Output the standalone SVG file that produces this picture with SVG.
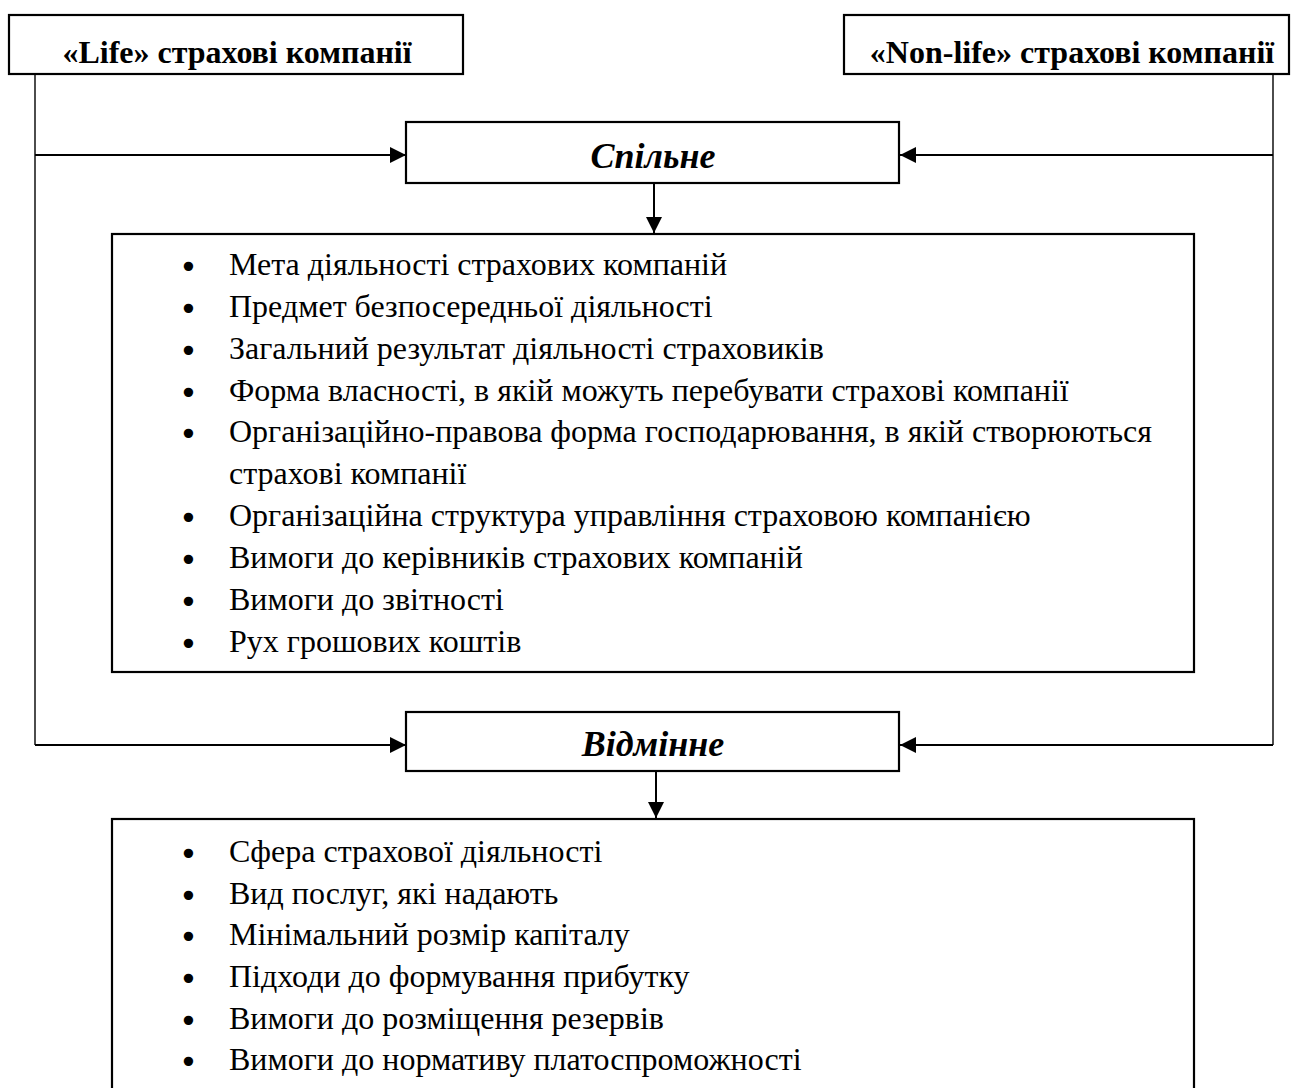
<svg xmlns="http://www.w3.org/2000/svg" width="1291" height="1088" viewBox="0 0 1291 1088">
  <style>
    .box { fill: #ffffff; stroke: #000000; stroke-width: 2.2; }
    .head { font-family: "Liberation Serif", "Times New Roman", serif; font-weight: bold; font-size: 32px; fill: #000; }
    .title { font-family: "Liberation Serif", "Times New Roman", serif; font-weight: bold; font-style: italic; font-size: 36px; fill: #000; }
    .item { font-family: "Liberation Serif", "Times New Roman", serif; font-size: 32px; fill: #000; }
    .bullet { font-family: "DejaVu Sans", sans-serif; font-size: 32px; fill: #000; }
    .wire { fill: none; stroke: #000000; stroke-width: 2; }
    .side { fill: none; stroke: #000000; stroke-width: 1.4; }
  </style>
  <defs>
    <marker id="arrow" viewBox="0 0 16 16" refX="16" refY="8" markerWidth="16" markerHeight="16" markerUnits="userSpaceOnUse" orient="auto">
      <path d="M0,0 L16,8 L0,16 Z" fill="#000"/>
    </marker>
  </defs>

  <rect width="1291" height="1088" fill="#ffffff"/>

  <!-- connectors -->
  <g id="connectors">
    <path class="side" d="M35,74 V745"/>
    <path class="side" d="M1273,74 V745"/>
    <path class="wire" d="M35,155 H406" marker-end="url(#arrow)"/>
    <path class="wire" d="M1273,155 H900" marker-end="url(#arrow)"/>
    <path class="wire" d="M35,745 H406" marker-end="url(#arrow)"/>
    <path class="wire" d="M1273,745 H900" marker-end="url(#arrow)"/>
    <path class="wire" d="M654,183 V233" marker-end="url(#arrow)"/>
    <path class="wire" d="M656,771 V818" marker-end="url(#arrow)"/>
  </g>

  <!-- life insurers -->
  <g id="life">
    <rect class="box" x="9" y="15" width="454" height="59"/>
    <text class="head" x="237" y="63" text-anchor="middle">«Life» страхові компанії</text>
  </g>

  <!-- non-life insurers -->
  <g id="nonlife">
    <rect class="box" x="844" y="15" width="445" height="59"/>
    <text class="head" x="1072" y="63" text-anchor="middle">«Non-life» страхові компанії</text>
  </g>

  <!-- common features -->
  <g id="common">
    <rect class="box" x="406" y="122" width="493" height="61"/>
    <text class="title" x="653" y="168" text-anchor="middle">Спільне</text>
  </g>

  <g id="common-list">
    <rect class="box" x="112" y="234" width="1082" height="438"/>
    <g class="bullet">
      <text x="179" y="278">•</text>
      <text x="179" y="320">•</text>
      <text x="179" y="362">•</text>
      <text x="179" y="404">•</text>
      <text x="179" y="445">•</text>
      <text x="179" y="529">•</text>
      <text x="179" y="571">•</text>
      <text x="179" y="613">•</text>
      <text x="179" y="655">•</text>
    </g>
    <g class="item">
      <text x="229" y="275">Мета діяльності страхових компаній</text>
      <text x="229" y="317">Предмет безпосередньої діяльності</text>
      <text x="229" y="359">Загальний результат діяльності страховиків</text>
      <text x="229" y="401">Форма власності, в якій можуть перебувати страхові компанії</text>
      <text x="229" y="442">Організаційно-правова форма господарювання, в якій створюються</text>
      <text x="229" y="484">страхові компанії</text>
      <text x="229" y="526">Організаційна структура управління страховою компанією</text>
      <text x="229" y="568">Вимоги до керівників страхових компаній</text>
      <text x="229" y="610">Вимоги до звітності</text>
      <text x="229" y="652">Рух грошових коштів</text>
    </g>
  </g>

  <!-- differing features -->
  <g id="different">
    <rect class="box" x="406" y="712" width="493" height="59"/>
    <text class="title" x="653" y="756" text-anchor="middle">Відмінне</text>
  </g>

  <g id="different-list">
    <rect class="box" x="112" y="819" width="1082" height="290"/>
    <g class="bullet">
      <text x="179" y="865">•</text>
      <text x="179" y="907">•</text>
      <text x="179" y="948">•</text>
      <text x="179" y="990">•</text>
      <text x="179" y="1032">•</text>
      <text x="179" y="1073">•</text>
    </g>
    <g class="item">
      <text x="229" y="862">Сфера страхової діяльності</text>
      <text x="229" y="904">Вид послуг, які надають</text>
      <text x="229" y="945">Мінімальний розмір капіталу</text>
      <text x="229" y="987">Підходи до формування прибутку</text>
      <text x="229" y="1029">Вимоги до розміщення резервів</text>
      <text x="229" y="1070">Вимоги до нормативу платоспроможності</text>
    </g>
  </g>
</svg>
